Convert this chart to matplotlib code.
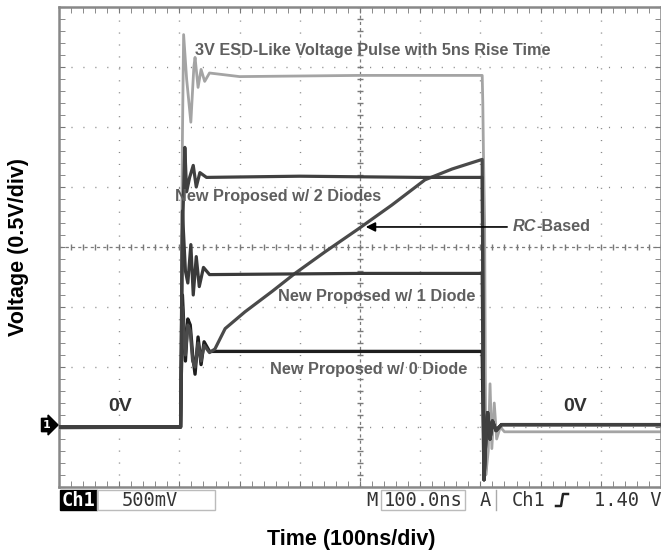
import matplotlib.pyplot as plt
from matplotlib.patches import Rectangle
from matplotlib.lines import Line2D
import numpy as np

# scope capture: time in ns (100 ns/div), voltage in V (0.5 V/div)
pulse_t = [0, 202, 205, 207, 212, 219, 224, 226, 231, 236, 242, 250, 300, 500, 703,
           704, 705, 707, 709, 713, 716, 719, 723, 727, 733, 740, 1000]
pulse_v = [-0.01, 0.0, 2.4, 3.27, 2.9, 2.54, 3.0, 3.08, 2.83, 2.98, 2.88, 2.95, 2.92, 2.93, 2.93,
           2.7, 2.3, 1.7, -0.4, -0.2, 0.36, -0.18, 0.2, -0.1, 0.0, -0.04, -0.04]

diode2_t = [0, 202, 205, 209, 212, 217, 223, 228, 234, 245, 400, 600, 703]
diode2_v = [0, 0, 1.6, 2.33, 1.96, 2.08, 2.18, 2.0, 2.12, 2.08, 2.09, 2.08, 2.08]

diode1_t = [0, 202, 205, 210, 214, 219, 223, 228, 233, 240, 250, 500, 703]
diode1_v = [0, 0, 1.8, 1.3, 1.2, 1.52, 1.1, 1.42, 1.17, 1.33, 1.27, 1.28, 1.28]

diode0_t = [0, 202, 205, 210, 214, 218, 222, 226, 231, 236, 241, 250, 500, 703]
diode0_v = [0, 0, 1.1, 0.55, 0.9, 0.85, 0.6, 0.44, 0.75, 0.52, 0.71, 0.63, 0.63, 0.63]

rc_t = [0, 202, 205, 210, 214, 218, 222, 226, 231, 236, 241, 250, 259, 276, 309,
        354, 392, 442, 497, 553, 608, 653, 703]
rc_v = [0, 0, 1.0, 0.6, 0.85, 0.8, 0.55, 0.5, 0.7, 0.55, 0.68, 0.62, 0.65, 0.82, 0.96,
        1.13, 1.28, 1.46, 1.65, 1.85, 2.06, 2.15, 2.23]

# common ringing after the falling edge (dark traces)
tail_t = [706, 709, 712, 716, 720, 726, 735, 1000]
tail_v = [-0.44, -0.1, 0.12, -0.1, 0.05, -0.03, 0.02, 0.02]

W, H = 661, 554


def fx(px):
    return px / W


def fy(py):
    return 1 - py / H


fig = plt.figure(figsize=(W / 100, H / 100), dpi=100)
ax = fig.add_axes([fx(59), fy(487), 602 / W, 480 / H])
ax.set_xlim(0, 1000)
ax.set_ylim(-0.5, 3.5)

# graticule
grid_kw = dict(color='#8a8a8a', linewidth=1.0, linestyle=(0, (0.8, 7.8)), zorder=0)
for t in range(100, 1000, 100):
    if t != 500:
        ax.axvline(t, **grid_kw)
for v in np.arange(0.0, 3.5, 0.5):
    if v != 1.5:
        ax.axhline(v, **grid_kw)
centre_kw = dict(color='#7a7a7a', linewidth=0.9, linestyle=(0, (2.5, 2.5)), zorder=0)
ax.axvline(500, **centre_kw)
ax.axhline(1.5, **centre_kw)
ax.plot(np.arange(0, 1001, 20), np.full(51, 1.5), '|', color='#7a7a7a', ms=5, zorder=0)
ax.plot(np.full(41, 500), np.arange(-0.5, 3.51, 0.1), '_', color='#7a7a7a', ms=5, zorder=0)

ax.set_xticks(np.arange(0, 1001, 100))
ax.set_yticks(np.arange(-0.5, 3.51, 0.5))
ax.set_xticks(np.arange(0, 1001, 20), minor=True)
ax.set_yticks(np.arange(-0.5, 3.51, 0.1), minor=True)
ax.tick_params(which='both', direction='in', top=True, right=True, length=4,
               color='#777777', labelbottom=False, labelleft=False)
for s in ax.spines.values():
    s.set_color('#888888')
    s.set_linewidth(1.8)

# traces
ax.plot(pulse_t, pulse_v, color='#a4a4a4', lw=2.0, zorder=2)
ax.plot(diode0_t + tail_t, diode0_v + tail_v, color='#1e1e1e', lw=2.4, zorder=3)
ax.plot(rc_t + tail_t, rc_v + tail_v, color='#4a4a4a', lw=2.3, zorder=3)
ax.plot(diode1_t + tail_t, diode1_v + tail_v, color='#3a3a3a', lw=2.3, zorder=3)
ax.plot(diode2_t + tail_t, diode2_v + tail_v, color='#404040', lw=2.3, zorder=3)

# labels inside the screen
lab = dict(color='#5f5f5f', fontsize=11.7, fontweight='bold', family='Liberation Sans',
           va='center', ha='left', zorder=5)
ax.text(226, 3.14, '3V ESD-Like Voltage Pulse with 5ns Rise Time', **lab)
ax.text(193, 1.92, 'New Proposed w/ 2 Diodes', **lab)
ax.text(364, 1.09, 'New Proposed w/ 1 Diode', **lab)
ax.text(350, 0.48, 'New Proposed w/ 0 Diode', **lab)
rc_txt = ax.text(754, 1.667, 'RC', fontstyle='italic', **lab)
ax.annotate('-Based', xy=(1, 0.5), xycoords=rc_txt, **lab)
ax.annotate('', xy=(505, 1.667), xytext=(749, 1.667),
            arrowprops=dict(arrowstyle='-|>', color='black', lw=1.2, mutation_scale=14), zorder=5)
zero = dict(color='#333333', fontsize=14, fontweight='bold', family='Liberation Sans',
            ha='center', va='center', zorder=5)
ax.text(101, 0.17, '0V', **zero)
ax.text(857, 0.17, '0V', **zero)

# channel marker
fig.text(fx(47), fy(425), '1', color='white', fontsize=8, fontweight='bold',
         ha='center', va='center',
         bbox=dict(boxstyle='rarrow,pad=0.15', fc='black', ec='black'))

# status bar
mono = dict(family='DejaVu Sans Mono', fontsize=13.5, va='center')
fig.add_artist(Rectangle((fx(60), fy(510)), 37 / W, 20 / H, transform=fig.transFigure,
                         fc='black', ec='black'))
fig.text(fx(78.5), fy(500), 'Ch1', ha='center', fontweight='bold', color='white', **mono)
fig.add_artist(Rectangle((fx(97), fy(510)), 118 / W, 20 / H, transform=fig.transFigure,
                         fc='none', ec='#bbbbbb', lw=1))
fig.text(fx(150), fy(500), '500mV', ha='center', color='#333333', **mono)
fig.text(fx(372), fy(500), 'M', ha='center', color='#333333', **mono)
fig.add_artist(Rectangle((fx(381), fy(510)), 84 / W, 20 / H, transform=fig.transFigure,
                         fc='none', ec='#bbbbbb', lw=1))
fig.text(fx(423), fy(500), '100.0ns', ha='center', color='#333333', **mono)
fig.text(fx(485), fy(500), 'A', ha='center', color='#333333', **mono)
fig.add_artist(Line2D([fx(496), fx(496)], [fy(490), fy(510)], transform=fig.transFigure,
                      color='#aaaaaa', lw=1))
fig.text(fx(529), fy(500), 'Ch1', ha='center', color='#333333', **mono)
fig.add_artist(Line2D([fx(556), fx(561), fx(563), fx(568)],
                      [fy(506), fy(506), fy(494), fy(494)], transform=fig.transFigure,
                      color='#222222', lw=1.8))
fig.text(fx(661), fy(500), '1.40 V', ha='right', color='#333333', **mono)

# axis titles
fig.text(fx(19), fy(247), 'Voltage (0.5V/div)', rotation=90, fontsize=15.5,
         fontweight='bold', family='Liberation Sans', ha='center', va='center')
fig.text(fx(351), fy(540), 'Time (100ns/div)', fontsize=15.5,
         fontweight='bold', family='Liberation Sans', ha='center', va='center')

fig.savefig('out.png', dpi=100)
